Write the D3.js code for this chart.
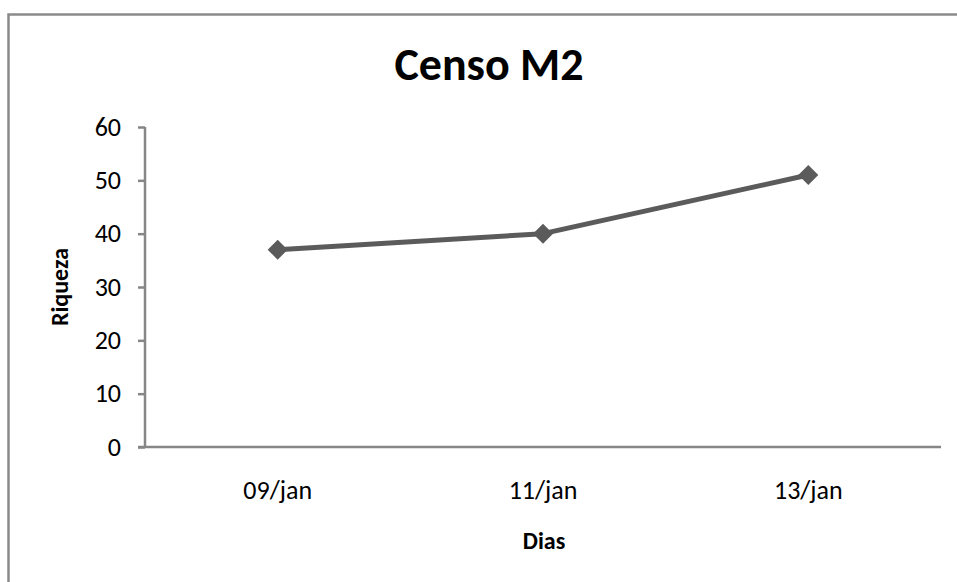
<!DOCTYPE html>
<html><head><meta charset="utf-8">
<script src="https://cdn.jsdelivr.net/npm/d3@7"></script>
<style>html,body{margin:0;padding:0;background:#fff;}svg{display:block;}</style>
</head><body>
<script>
const categories = ["09/jan", "11/jan", "13/jan"];
const values = [37, 40, 51];
const yTicks = [0, 10, 20, 30, 40, 50, 60];
const title = "Censo M2";
const xTitle = "Dias";
const yTitle = "Riqueza";

(function () {
const W = 957, H = 582;
const font = "Carlito, Calibri, 'Open Sans', sans-serif";
const svg = d3.select("body").append("svg").attr("width", W).attr("height", H);

// frame (extends past right/bottom edges)
svg.append("rect").attr("x", 8.5).attr("y", 14.5).attr("width", 980).attr("height", 600)
  .attr("fill", "#fff").attr("stroke", "#8a8a8a").attr("stroke-width", 2.5);

const pL = 145, pR = 941, pT = 127, pB = 447;
const x = d3.scaleBand().domain(categories).range([pL, pR]);
const y = d3.scaleLinear().domain([0, 60]).range([pB, pT]);

// y axis
const yAxis = svg.append("g").attr("transform", `translate(${pL},0)`)
  .call(d3.axisLeft(y).tickValues(yTicks).tickSize(7).tickPadding(17));
yAxis.select(".domain").attr("stroke", "#868686").attr("stroke-width", 2.5).attr("d", `M0,${pT}V${pB}`);
yAxis.selectAll(".tick line").attr("stroke", "#868686").attr("stroke-width", 2.5);
yAxis.selectAll(".tick text").attr("font-family", font).attr("font-size", 26).attr("fill", "#000").attr("dy", "0.32em");

// x axis
const xAxis = svg.append("g").attr("transform", `translate(0,${pB})`)
  .call(d3.axisBottom(x).tickSize(0).tickPadding(34));
xAxis.select(".domain").attr("stroke", "#868686").attr("stroke-width", 2.5).attr("d", `M${pL - 7},0H${pR}`);
xAxis.selectAll(".tick text").attr("font-family", font).attr("font-size", 26).attr("fill", "#000").attr("dy", "0.71em");

const cx = d => x(d) + x.bandwidth() / 2;
const pts = categories.map((c, i) => [cx(c), y(values[i])]);

svg.append("path").datum(pts)
  .attr("d", d3.line())
  .attr("fill", "none").attr("stroke", "#5b5b5b").attr("stroke-width", 5).attr("stroke-linejoin", "round");

const s = 10;
svg.selectAll(".mk").data(pts).enter().append("path")
  .attr("d", d => `M${d[0]},${d[1] - s}L${d[0] + s},${d[1]}L${d[0]},${d[1] + s}L${d[0] - s},${d[1]}Z`)
  .attr("fill", "#5b5b5b");

svg.append("text").attr("x", 489).attr("y", 80).attr("text-anchor", "middle")
  .attr("font-family", font).attr("font-weight", "bold").attr("font-size", 46)
  .text(title);

svg.append("text").attr("x", 544).attr("y", 549).attr("text-anchor", "middle")
  .attr("font-family", font).attr("font-weight", "bold").attr("font-size", 24).text(xTitle);

svg.append("text").attr("transform", "translate(68,287) rotate(-90)").attr("text-anchor", "middle")
  .attr("font-family", font).attr("font-weight", "bold").attr("font-size", 24).text(yTitle);
})();
</script>
</body></html>
